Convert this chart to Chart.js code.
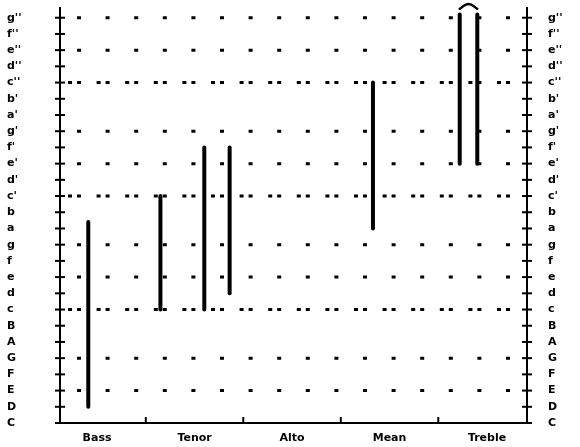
<!DOCTYPE html>
<html>
<head>
<meta charset="utf-8">
<script src="https://cdn.jsdelivr.net/npm/chart.js@4/dist/chart.umd.min.js"></script>
<style>
  html, body { margin: 0; padding: 0; background: #fff; }
  #wrap { width: 580px; height: 447px; position: relative; }
</style>
</head>
<body>
<div id="wrap"><canvas id="c"></canvas></div>
<script>
// ---- data ----
const categories = ['Bass', 'Tenor', 'Alto', 'Mean', 'Treble'];
const categoryPositions = [0, 1, 2, 3, 4];
const categoryDividers = [0.5, 1.5, 2.5, 3.5];
const noteLabels = ['C','D','E','F','G','A','B','c','d','e','f','g','a','b',
  "c'","d'","e'","f'","g'","a'","b'","c''","d''","e''","f''","g''"];
const noteValues = noteLabels.map((_, i) => i);
// vocal ranges: x position (in category units), lowest and highest note index
const rangeX    = [-0.09, 0.65, 1.10, 1.36, 2.83, 3.72, 3.90];
const rangeLow  = [1, 7, 7, 8, 12, 16, 16];
const rangeHigh = [12.4, 14, 17, 17, 21, 25.2, 25.2];
// dotted reference lines (E and G), and octave lines (c)
const dottedNotes = [2, 4, 9, 11, 16, 18, 23, 25];
const octaveNotes = [7, 14, 21];
// bracket over the two treble bars
const bracketX = [3.72, 3.81, 3.90];
const bracketY = [25.55, 25.85, 25.55];

const FONT = { family: 'DejaVu Sans', size: 11, weight: 'bold' };

const datasets = rangeX.map((x, i) => ({
  data: [{ x: x, y: rangeLow[i] }, { x: x, y: rangeHigh[i] }],
  showLine: true,
  borderColor: '#000',
  borderWidth: 4,
  borderCapStyle: 'round',
  pointRadius: 0,
  clip: false
}));
datasets.push({
  data: bracketX.map((x, i) => ({ x: x, y: bracketY[i] })),
  showLine: true,
  borderColor: '#000',
  borderWidth: 2.5,
  borderCapStyle: 'round',
  tension: 0.5,
  pointRadius: 0,
  clip: false
});

const decor = {
  id: 'decor',
  beforeDatasetsDraw(chart) {
    const { ctx, chartArea: a, scales } = chart;
    const ys = scales.y, xs = scales.x;
    ctx.save();
    ctx.strokeStyle = '#000';
    // dotted lines
    ctx.lineWidth = 3;
    ctx.lineCap = 'butt';
    dottedNotes.forEach(n => {
      const py = ys.getPixelForValue(n);
      ctx.setLineDash([4, 24.6]);
      ctx.lineDashOffset = 13.6;
      ctx.beginPath(); ctx.moveTo(a.left + 2, py); ctx.lineTo(a.right - 6, py); ctx.stroke();
    });
    octaveNotes.forEach(n => {
      const py = ys.getPixelForValue(n);
      ctx.setLineDash([4, 5, 4, 15.6]);
      ctx.lineDashOffset = 22.6;
      ctx.beginPath(); ctx.moveTo(a.left + 2, py); ctx.lineTo(a.right - 6, py); ctx.stroke();
    });
    ctx.setLineDash([]);
    // cross ticks on both vertical axes
    ctx.lineWidth = 2;
    noteValues.forEach(n => {
      const py = ys.getPixelForValue(n);
      [a.left, a.right].forEach(px => {
        ctx.beginPath(); ctx.moveTo(px - 5, py); ctx.lineTo(px + 5, py); ctx.stroke();
      });
    });
    // inner ticks on the bottom axis
    categoryDividers.forEach(v => {
      const px = xs.getPixelForValue(v);
      ctx.beginPath(); ctx.moveTo(px, a.bottom); ctx.lineTo(px, a.bottom - 6); ctx.stroke();
    });
    ctx.restore();
  }
};

const yCommon = {
  type: 'linear',
  min: 0,
  max: 25.6,
  afterBuildTicks: s => { s.ticks = noteValues.map(v => ({ value: v })); },
  border: { display: true, color: '#000', width: 2 }
};

new Chart(document.getElementById('c'), {
  type: 'scatter',
  data: { datasets },
  options: {
    responsive: true,
    maintainAspectRatio: false,
    animation: false,
    layout: { padding: { left: 7, right: 0, top: 8, bottom: 0 } },
    plugins: { legend: { display: false }, tooltip: { enabled: false } },
    scales: {
      x: {
        type: 'linear',
        min: -0.38,
        max: 4.41,
        afterBuildTicks: s => { s.ticks = categoryPositions.map(v => ({ value: v })); },
        afterFit: s => { s.height = 24; },
        ticks: {
          autoSkip: false, maxRotation: 0, color: '#000', font: FONT, padding: 9,
          callback: (v, i) => categories[i]
        },
        grid: { display: true, drawOnChartArea: false, drawTicks: false },
        border: { display: true, color: '#000', width: 2 }
      },
      y: Object.assign({}, yCommon, {
        position: 'left',
        afterFit: s => { s.width = 53; },
        grid: { display: true, drawOnChartArea: false, drawTicks: false },
        ticks: {
          autoSkip: false, color: '#000', font: FONT, crossAlign: 'far', padding: 0,
          callback: (v, i) => noteLabels[i]
        }
      }),
      y2: Object.assign({}, yCommon, {
        position: 'right',
        afterFit: s => { s.width = 53; },
        grid: { display: true, drawOnChartArea: false, drawTicks: true, tickLength: 21, tickColor: 'rgba(0,0,0,0)' },
        ticks: {
          autoSkip: false, color: '#000', font: FONT, padding: 0,
          callback: (v, i) => noteLabels[i]
        }
      })
    }
  },
  plugins: [decor]
});
</script>
</body>
</html>
